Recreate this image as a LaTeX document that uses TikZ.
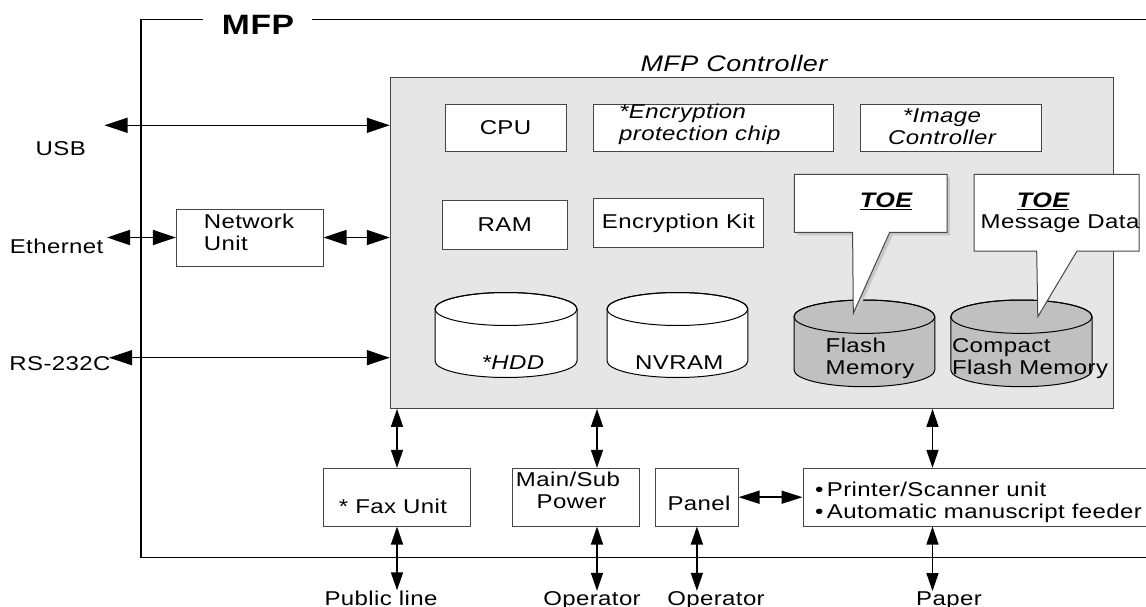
\documentclass[tikz,border=0pt]{standalone}
\usepackage{fontspec}
\setmainfont{Liberation Sans}[FakeStretch=1.2,LetterSpace=2]
\usetikzlibrary{arrows.meta}
\definecolor{ctrlgray}{RGB}{230,230,230}
\definecolor{cylgray}{RGB}{192,192,192}
\definecolor{edgegray}{RGB}{70,70,70}
\newcommand\fsreg{\fontsize{20}{22}\selectfont}
\tikzset{
  box/.style={draw=edgegray, line width=1pt, fill=white, inner sep=0pt, font=\fsreg},
  txt/.style={inner sep=0pt, font=\fsreg},
  harr/.style={{Triangle[length=23pt,width=15pt]}-{Triangle[length=23pt,width=15pt]}, line width=1.5pt},
  varr/.style={{Triangle[length=18pt,width=12pt]}-{Triangle[length=18pt,width=12pt]}, line width=1.5pt},
  cyl/.style={draw=black, line width=1pt},
  callout/.style={draw=edgegray, line width=1pt, fill=white},
}
\begin{document}
\begin{tikzpicture}[x=1pt,y=-1pt]
\useasboundingbox (0,0) rectangle (1146,607);
\clip (0,0) rectangle (1146,607);
\fill[white] (0,0) rectangle (1146,607);

% MFP frame
\node[txt, font=\fontsize{28}{30}\selectfont\bfseries] (mfp) at (258,24.7) {MFP};
\draw[line width=1.5pt] (203,19.3) -- (141,19.3) -- (141,557.3) -- (1160,557.3);
\draw[line width=1.5pt] (312,19.3) -- (1160,19.3);

% controller
\node[txt, font=\fontsize{22.5}{24}\selectfont\itshape] (ctrllabel) at (734,63.8) {MFP Controller};
\node[draw=edgegray, fill=ctrlgray, line width=1.2pt, inner sep=0pt,
      minimum width=722.8pt, minimum height=331pt] (ctrl) at (751.8,242.8) {};

\node[box, minimum width=121pt, minimum height=47.4pt] (cpu) at (505.5,128) {CPU};
\node[box, minimum width=240.4pt, minimum height=47.4pt] (chip) at (713.6,128) {};
\node[txt, anchor=west, align=left, font=\fsreg\itshape] (chipt) at (619,124.5) {*Encryption\\protection chip};
\node[box, minimum width=181.7pt, minimum height=47.4pt] (imgc) at (950.9,128) {};
\node[txt, align=center, font=\fsreg\itshape] (imgct) at (942,126.5) {*Image\\Controller};

\node[box, minimum width=125.5pt, minimum height=49pt] (ram) at (504.8,224.5) {RAM};
\node[box, minimum width=170pt, minimum height=48.6pt] (enckit) at (678.4,223) {Encryption Kit};

% cylinders
\path[cyl, fill=white] (435,309) -- (435,361) arc[start angle=180,end angle=360,x radius=71pt,y radius=16.5pt]
  -- (577,309) arc[start angle=0,end angle=180,x radius=71pt,y radius=16.5pt] -- cycle;
\draw[cyl] (506,309) ellipse[x radius=71pt,y radius=16.5pt];
\path[cyl, fill=white] (607,309) -- (607,361) arc[start angle=180,end angle=360,x radius=70.4pt,y radius=16.5pt]
  -- (747.8,309) arc[start angle=0,end angle=180,x radius=70.4pt,y radius=16.5pt] -- cycle;
\draw[cyl] (677.4,309) ellipse[x radius=70.4pt,y radius=16.5pt];
\path[cyl, fill=cylgray] (794,316.7) -- (794,370) arc[start angle=180,end angle=360,x radius=70.4pt,y radius=16.7pt]
  -- (934.8,316.7) arc[start angle=0,end angle=180,x radius=70.4pt,y radius=16.7pt] -- cycle;
\draw[cyl] (864.4,316.7) ellipse[x radius=70.4pt,y radius=16.7pt];
\path[cyl, fill=cylgray] (950.8,316.7) -- (950.8,370) arc[start angle=180,end angle=360,x radius=70.6pt,y radius=16.7pt]
  -- (1092,316.7) arc[start angle=0,end angle=180,x radius=70.6pt,y radius=16.7pt] -- cycle;
\draw[cyl] (1021.4,316.7) ellipse[x radius=70.6pt,y radius=16.7pt];

\node[txt, font=\fsreg\itshape] (hddt) at (513,362.7) {*HDD};
\node[txt] (nvramt) at (679.3,362.7) {NVRAM};
\node[txt, anchor=west, align=left] (flasht) at (825.5,358.5) {Flash\\Memory};
\node[txt, anchor=west, align=left] (cft) at (951.8,358.5) {Compact\\Flash Memory};

% callouts
\fill[black!22] (797.4,177.3) -- (950,177.3) -- (950,235.3) -- (892.7,235.3) -- (856,316) -- (855.6,235.3) -- (797.4,235.3) -- cycle;
\path[callout] (794.4,174.3) -- (947,174.3) -- (947,232.3) -- (889.7,232.3) -- (853.3,313.3)
  -- (852.6,232.3) -- (794.4,232.3) -- cycle;
\path[callout] (974.2,174.3) -- (1139.2,174.3) -- (1139.2,251) -- (1077,251) -- (1037.8,316.7)
  -- (1036.7,251) -- (974.2,251) -- cycle;
\node[txt, font=\fontsize{21}{23}\selectfont\bfseries\itshape] (toe1) at (886,201) {\underline{TOE}};
\node[txt, font=\fontsize{21}{23}\selectfont\bfseries\itshape] (toe2) at (1043,201) {\underline{TOE}};
\node[txt] (msg) at (1060,223.7) {Message Data};

% network unit
\node[box, minimum width=146.6pt, minimum height=57pt] (netu) at (249.7,237.5) {};
\node[txt, anchor=west, align=left] (netut) at (203.6,232.5) {Network\\Unit};

% bottom row
\node[box, minimum width=146.5pt, minimum height=57.7pt] (fax) at (397,497.2) {};
\node[txt] (faxt) at (393,506) {* Fax Unit};
\node[box, minimum width=127.6pt, minimum height=57.7pt] (ms) at (575.8,497.2) {};
\node[txt, align=center] (mst) at (568,490.5) {Main/Sub\\\ Power};
\node[box, minimum width=82.2pt, minimum height=57.7pt] (panel) at (696.9,497.2) {};
\node[txt] (panelt) at (699,503.3) {Panel};
\node[box, minimum width=357pt, minimum height=57.7pt] (prn) at (981.5,497.2) {};
\node[txt, anchor=west, align=left] (prnt) at (815,502.5) {\textbullet\,Printer/Scanner unit\\\textbullet\,Automatic manuscript feeder};

% side labels
\node[txt] (usb) at (60.8,148.3) {USB};
\node[txt] (eth) at (56.6,246.7) {Ethernet};
\node[txt] (rs) at (60,364) {RS-232C};

% bottom labels
\node[txt, anchor=base] (pub) at (381,605) {Public line};
\node[txt, anchor=base] (op1) at (592,605) {Operator};
\node[txt, anchor=base] (op2) at (716,605) {Operator};
\node[txt, anchor=base] (paper) at (949,605) {Paper};

% arrows
\coordinate (usbL) at (104.5,125.3);
\coordinate (ethL) at (107,237.5);
\coordinate (rsL) at (109,357.7);
\draw[harr] (usbL) -- (usbL -| ctrl.west);
\draw[harr] (ethL) -- (netu.west);
\draw[harr] (netu.east) -- (netu.east -| ctrl.west);
\draw[harr] (rsL) -- (rsL -| ctrl.west);

\coordinate (msTop) at ([xshift=21.2pt]ms.north);
\coordinate (msBot) at ([xshift=21.2pt]ms.south);
\coordinate (prnTop) at ([xshift=130pt]prn.north west);
\coordinate (prnBot) at ([xshift=130pt]prn.south west);

\draw[varr] (fax.north) -- (fax.north |- ctrl.south);
\draw[varr] (msTop) -- (msTop |- ctrl.south);
\draw[varr] (prnTop) -- (prnTop |- ctrl.south);
\draw[varr] (fax.south) -- (fax.south |- pub.north);
\draw[varr] (msBot) -- (msBot |- op1.north);
\draw[varr] (panel.south) -- (panel.south |- op2.north);
\draw[varr] (prnBot) -- (prnBot |- paper.north);
\draw[{Triangle[length=21pt,width=13pt]}-{Triangle[length=21pt,width=13pt]}, line width=1.5pt] (panel.east) -- (prn.west);
\end{tikzpicture}
\end{document}
